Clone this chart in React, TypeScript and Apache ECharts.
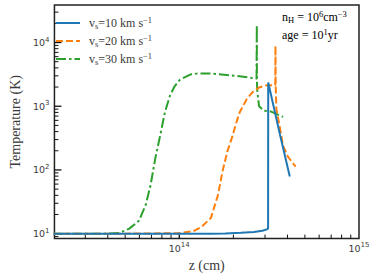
import React, { useEffect, useRef } from "react";
import * as echarts from "echarts";

// ---- data ----
const seriesNames = ["vs10", "vs20", "vs30"];
const velocities = [10, 20, 30];
const colors = ["#1f77b4", "#ff7f0e", "#2ca02c"];

const zBlue = [2.0e13, 5e13, 1.0e14, 1.5e14, 1.8e14, 2.2e14, 2.6e14, 2.9e14, 3.1e14, 3.12e14, 3.125e14, 3.64e14, 4.12e14];
const tBlue = [10, 10, 10, 10, 10.1, 10.3, 10.6, 11.1, 11.8, 12.2, 2350, 350, 79];

const zOrange = [2.0e13, 5e13, 1.0e14, 1.2e14, 1.33e14, 1.5e14, 1.64e14, 1.74e14, 1.85e14, 1.97e14, 2.07e14, 2.17e14, 2.37e14, 2.55e14, 2.78e14, 3.03e14, 3.42e14, 3.43e14, 3.44e14, 3.47e14, 3.64e14, 3.78e14, 4.02e14, 4.44e14];
const tOrange = [10, 10, 10.2, 11, 12.8, 17.7, 40, 95, 194, 330, 540, 807, 1285, 1650, 1970, 2120, 2130, 8830, 2050, 900, 440, 240, 162, 113];

const zGreen = [2.0e13, 4.0e13, 4.66e13, 5.27e13, 5.96e13, 6.5e13, 6.92e13, 7.35e13, 7.82e13, 8.32e13, 8.85e13, 9.4e13, 1.01e14, 1.15e14, 1.25e14, 1.5e14, 2.0e14, 2.4e14, 2.69e14, 2.7e14, 2.705e14, 2.72e14, 2.78e14, 2.96e14, 3.22e14, 3.78e14];
const tGreen = [10, 10, 10.3, 12, 15.9, 28.2, 57.5, 151, 343, 807, 1430, 2040, 2620, 3140, 3250, 3250, 3020, 2850, 2700, 18700, 2300, 1700, 1000, 850, 830, 680];

const xTicks = [3e13, 4e13, 5e13, 6e13, 7e13, 8e13, 9e13, 1e14, 2e14, 3e14, 4e14, 5e14, 6e14, 7e14, 8e14, 9e14];
const yTicks = [9, 10, 20, 30, 40, 50, 60, 70, 80, 90, 100, 200, 300, 400, 500, 600, 700, 800, 900, 1000, 2000, 3000, 4000, 5000, 6000, 7000, 8000, 9000, 10000, 20000, 30000];

const X_MIN = 2.02e13;
const X_MAX = 1e15;
const Y_MIN = 8.37;
const Y_MAX = 38800;

const SERIF = "'Liberation Serif', 'DejaVu Serif', serif";
const SANS = "'DejaVu Sans', sans-serif";
const TXT = "#3a3a3a";

const isMajor = (v: number) => Math.abs(Math.log10(v) - Math.round(Math.log10(v))) < 1e-9;

export default function App() {
  const ref = useRef<HTMLDivElement>(null);
  useEffect(() => {
    if (!ref.current) return;
    document.body.style.margin = "0";
    const chart = echarts.init(ref.current, undefined, { renderer: "svg" });
    const zs = [zBlue, zOrange, zGreen];
    const ts = [tBlue, tOrange, tGreen];
    const dashes: any[] = ["solid", [7, 3], [10, 3, 2.5, 3]];
    const lineSeries = seriesNames.map((name, i) => ({
      name,
      type: "line",
      data: zs[i].map((z, j) => [z, ts[i][j]]),
      symbol: "none",
      showSymbol: false,
      color: colors[i],
      lineStyle: { color: colors[i], width: 2, type: dashes[i] },
      z: 3 - i,
    }));
    const tickLabelRich = {
      b: { fontFamily: SANS, fontSize: 9.5, color: TXT },
      s: { fontFamily: SANS, fontSize: 7, color: TXT, padding: [0, 0, 6, 0] },
    };
    const textRich = {
      a: { fontFamily: SERIF, fontSize: 12, color: TXT },
      sub: { fontFamily: SERIF, fontSize: 8.5, color: TXT, padding: [5, 0, 0, 0] },
      sup: { fontFamily: SERIF, fontSize: 8.5, color: TXT, padding: [0, 0, 7, 0] },
    };
    const option: any = {
      animation: false,
      grid: { left: 42, right: 15, top: 5, bottom: 36, show: true, borderColor: "#222", borderWidth: 1.5, backgroundColor: "transparent" },
      xAxis: {
        type: "log",
        logBase: 10,
        min: X_MIN,
        max: X_MAX,
        axisLine: { show: false },
        axisTick: { show: false },
        splitLine: { show: false },
        axisLabel: {
          showMinLabel: false,
          margin: 3,
          formatter: (v: number) => `{b|10}{s|${Math.round(Math.log10(v))}}`,
          rich: tickLabelRich,
        },
        name: "z (cm)",
        nameLocation: "middle",
        nameGap: 17,
        nameTextStyle: { fontFamily: SERIF, fontSize: 14, color: TXT },
      },
      yAxis: {
        type: "log",
        logBase: 10,
        min: Y_MIN,
        max: Y_MAX,
        axisLine: { show: false },
        axisTick: { show: false },
        splitLine: { show: false },
        axisLabel: {
          showMinLabel: false,
          showMaxLabel: false,
          margin: 5,
          formatter: (v: number) => `{b|10}{s|${Math.round(Math.log10(v))}}`,
          rich: tickLabelRich,
        },
        name: "Temperature (K)",
        nameLocation: "middle",
        nameGap: 26,
        nameTextStyle: { fontFamily: SERIF, fontSize: 14, color: TXT },
      },
      legend: {
        orient: "vertical",
        left: 50,
        top: 10,
        itemWidth: 24,
        itemHeight: 14,
        itemGap: 3,
        data: seriesNames,
        itemStyle: { opacity: 0 },
        formatter: (name: string) => {
          const i = seriesNames.indexOf(name);
          return `{a|v}{sub|s}{a|=${velocities[i]} km s}{sup|−1}`;
        },
        textStyle: { padding: [0, 0, 0, 4], rich: textRich },
      },
      graphic: [
        {
          type: "text",
          left: 282,
          top: 9,
          style: { text: "{a|n}{sub|H}{a| = 10}{sup|6}{a|cm}{sup|−3}", rich: textRich },
        },
        {
          type: "text",
          left: 282,
          top: 27,
          style: { text: "{a|age = 10}{sup|1}{a|yr}", rich: textRich },
        },
      ],
      series: [
        ...lineSeries,
        {
          type: "custom",
          silent: true,
          clip: false,
          data: xTicks.map((v) => [v, Y_MIN]),
          renderItem: (params: any, api: any) => {
            const v = api.value(0);
            const p = api.coord([v, Y_MIN]);
            const len = isMajor(v) ? 6 : 4;
            return {
              type: "line",
              shape: { x1: p[0], y1: p[1], x2: p[0], y2: p[1] - len },
              style: { stroke: "#111", lineWidth: isMajor(v) ? 1.3 : 1 },
            };
          },
        },
        {
          type: "custom",
          silent: true,
          clip: false,
          data: yTicks.map((v) => [X_MIN, v]),
          renderItem: (params: any, api: any) => {
            const v = api.value(1);
            const p = api.coord([X_MIN, v]);
            const len = isMajor(v) ? 7 : 4;
            return {
              type: "line",
              shape: { x1: p[0], y1: p[1], x2: p[0] + len, y2: p[1] },
              style: { stroke: "#111", lineWidth: isMajor(v) ? 1.3 : 1 },
            };
          },
        },
      ],
    };
    chart.setOption(option);
    return () => chart.dispose();
  }, []);
  return <div ref={ref} style={{ width: 374, height: 277 }} />;
}
